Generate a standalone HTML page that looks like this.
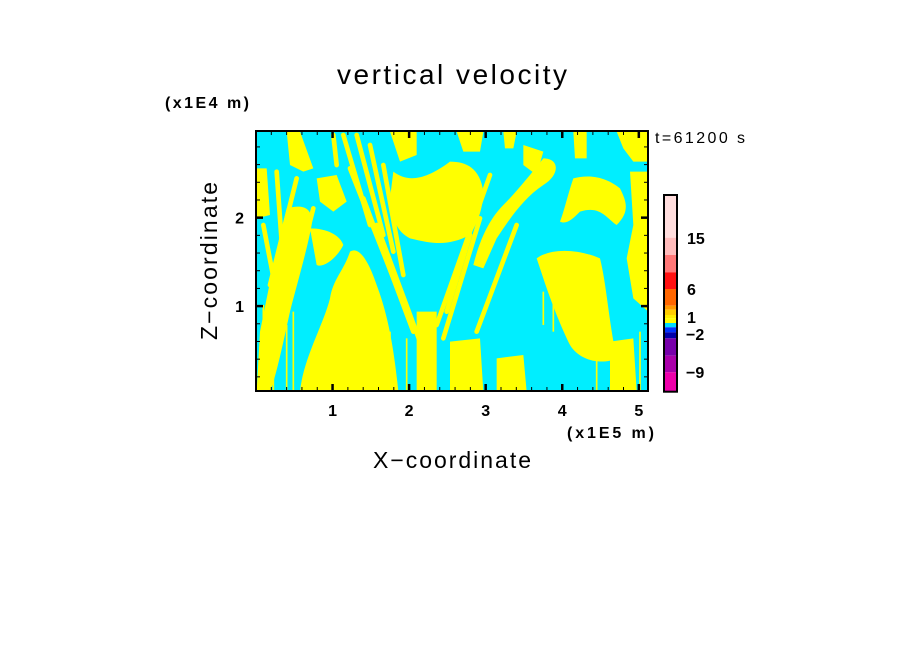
<!DOCTYPE html>
<html><head><meta charset="utf-8"><style>
body{margin:0;background:#fff;width:904px;height:654px;overflow:hidden}
svg text{font-family:"Liberation Sans","DejaVu Sans",sans-serif;fill:#000}
</style></head><body>
<svg id="chart" width="904" height="654" viewBox="0 0 904 654" xmlns="http://www.w3.org/2000/svg">
<defs><clipPath id="pc"><rect x="256" y="131" width="392" height="260"/></clipPath></defs>
<text x="452" y="84" font-size="28" text-anchor="middle" textLength="230">vertical velocity</text>
<text x="165" y="108" font-size="16" font-weight="bold" textLength="84">(x1E4 m)</text>
<text x="655" y="143" font-size="16" textLength="90">t=61200 s</text>
<g clip-path="url(#pc)">
<rect x="256" y="131" width="392" height="260" fill="#00eeff"/>
<g transform="translate(250,125) scale(0.33333)" fill="#ffff00" stroke="#ffff00">
<path stroke-width="0" d="M150,800 C160,700 220,600 240,520 C250,460 280,440 300,380 C330,360 360,420 380,480 C410,560 430,650 445,800 Z"/>
<path stroke-width="0" d="M110,250 C150,240 190,240 185,300 C170,380 140,480 120,560 C100,650 80,750 60,800 L20,800 L30,620 C50,520 70,420 90,330 Z"/>
<path stroke-width="0" d="M180,310 C230,310 270,330 280,360 C260,400 220,430 200,420 Z"/>
<polygon stroke-width="0" points="110,20 150,20 190,130 160,140 120,120"/>
<polygon stroke-width="0" points="20,130 50,130 60,270 20,280"/>
<path stroke-width="0" d="M430,140 C470,170 520,170 600,110 C650,110 690,130 700,200 C700,250 680,300 660,330 C600,360 560,360 480,340 C440,320 425,280 420,220 Z"/>
<polygon stroke-width="0" points="420,20 500,20 500,90 450,110"/>
<polygon stroke-width="0" points="620,20 700,20 690,80 640,80"/>
<path stroke-width="0" d="M880,100 C930,100 930,150 880,180 C820,220 780,280 740,340 L700,430 L670,420 C690,340 720,280 760,240 C800,200 840,150 880,100 Z"/>
<path stroke-width="0" d="M860,400 C900,370 980,370 1050,400 C1070,480 1075,580 1100,700 C1060,720 990,710 960,660 C930,600 900,520 880,460 Z"/>
<path stroke-width="0" d="M970,160 C1010,150 1060,150 1110,190 C1130,230 1140,260 1100,300 C1070,280 1050,240 990,260 C970,280 950,300 930,290 C945,250 950,220 970,160 Z"/>
<polygon stroke-width="0" points="1100,20 1195,20 1195,110 1150,110 1120,70"/>
<polygon stroke-width="0" points="1140,140 1195,140 1195,560 1150,520 1130,400 1150,300"/>
<polygon stroke-width="0" points="970,20 1010,20 1010,100 975,100"/>
<polygon stroke-width="0" points="200,160 260,150 290,230 250,260 210,230"/>
<polygon stroke-width="0" points="500,560 560,560 560,800 500,800"/>
<polygon stroke-width="0" points="740,700 820,690 830,800 740,800"/>
<polygon stroke-width="0" points="600,650 690,640 700,800 600,800"/>
<polygon stroke-width="0" points="1080,650 1150,640 1160,800 1080,800"/>
<polygon stroke-width="0" points="760,20 800,20 790,70 765,70"/>
<polygon stroke-width="0" points="820,60 880,80 860,150 820,120"/>
<g fill="none" stroke-width="14" stroke-linecap="round">
<line x1="280" y1="30" x2="360" y2="300"/><line x1="320" y1="30" x2="400" y2="330"/>
<line x1="360" y1="60" x2="430" y2="380"/><line x1="400" y1="120" x2="460" y2="450"/>
<line x1="300" y1="130" x2="470" y2="560"/><line x1="340" y1="220" x2="490" y2="620"/>
<line x1="380" y1="300" x2="510" y2="650"/><line x1="720" y1="150" x2="560" y2="600"/>
<line x1="690" y1="280" x2="580" y2="640"/><line x1="660" y1="330" x2="590" y2="560"/>
<line x1="800" y1="300" x2="680" y2="620"/><line x1="250" y1="30" x2="260" y2="120"/>
<line x1="80" y1="140" x2="100" y2="420"/><line x1="140" y1="160" x2="60" y2="480"/>
<line x1="40" y1="300" x2="90" y2="560"/><line x1="190" y1="250" x2="110" y2="560"/>
</g>
<g fill="none" stroke-width="5">
<line x1="40" y1="540" x2="40" y2="800"/><line x1="70" y1="560" x2="70" y2="800"/>
<line x1="110" y1="600" x2="110" y2="800"/><line x1="130" y1="560" x2="130" y2="800"/>
<line x1="330" y1="640" x2="330" y2="800"/><line x1="360" y1="600" x2="360" y2="800"/>
<line x1="390" y1="650" x2="390" y2="800"/><line x1="420" y1="620" x2="420" y2="800"/>
<line x1="470" y1="640" x2="470" y2="800"/><line x1="880" y1="500" x2="880" y2="600"/>
<line x1="910" y1="480" x2="910" y2="620"/><line x1="1040" y1="700" x2="1040" y2="800"/>
<line x1="1170" y1="620" x2="1170" y2="800"/>
</g>
</g>
</g>
<rect x="256" y="131" width="392" height="260" fill="none" stroke="#000" stroke-width="2"/>
<g id="ticks" stroke="#000"></g>
<g id="labels" font-size="16" font-weight="bold"></g>
<text x="567" y="438" font-size="16" font-weight="bold" textLength="87">(x1E5 m)</text>
<text x="452" y="468" font-size="23" text-anchor="middle" textLength="158">X−coordinate</text>
<text transform="translate(217,261) rotate(-90)" font-size="23" text-anchor="middle" textLength="158">Z−coordinate</text>
<g id="cbar"></g>
<g id="cbl" font-size="16" font-weight="bold"></g>
<script>
const xTicks=[1,2,3,4,5];
const zTicks=[1,2];
const xMin=0,xMax=5.12,zMin=0.04,zMax=2.98;
const cbColors=["#ffdddd","#ffbbbb","#ff7777","#ff1111","#ff6600","#ff9900","#ffcc00","#ffee00","#ffff00","#00ddff","#0033ff","#0000aa","#7700aa","#aa00aa","#ee00aa"];
const cbEdges=[195,237.7,255,272.3,289,305.7,309.7,315,318.3,323,327.3,332.3,338.3,355.7,372.3,391.7];
const cbLabels=["15","6","1","−2","−9"];
const cbLabelY=[238,289,317,334,372];
const NS="http://www.w3.org/2000/svg";
const X=v=>256+(v-xMin)/(xMax-xMin)*392;
const Z=v=>391-(v-zMin)/(zMax-zMin)*260;
const tk=document.getElementById('ticks'),lb=document.getElementById('labels');
function ln(x1,y1,x2,y2,w){const l=document.createElementNS(NS,'line');l.setAttribute('x1',x1);l.setAttribute('y1',y1);l.setAttribute('x2',x2);l.setAttribute('y2',y2);l.setAttribute('stroke-width',w);


tk.appendChild(l);}
for(let i=1;i<=25;i++){const v=i*0.2;if(v>xMax)break;const x=X(v);const maj=Math.abs(v-Math.round(v))<1e-6;const L=maj?7:4;ln(x,391,x,391-L,maj?2.5:1);ln(x,131,x,131+L,maj?2.5:1);}
for(let i=1;i<=14;i++){const v=i*0.2;if(v>zMax)break;const y=Z(v);const maj=Math.abs(v-Math.round(v))<1e-6;const L=maj?7:4;ln(256,y,256+L,y,maj?2.5:1);ln(648,y,648-L,y,maj?2.5:1);}
xTicks.forEach(v=>{const t=document.createElementNS(NS,'text');t.setAttribute('x',X(v));t.setAttribute('y',416);t.setAttribute('text-anchor','middle');t.textContent=v;


lb.appendChild(t);});
zTicks.forEach(v=>{const t=document.createElementNS(NS,'text');t.setAttribute('x',244);t.setAttribute('y',Z(v)+6);t.setAttribute('text-anchor','end');t.textContent=v;


lb.appendChild(t);});
const cb=document.getElementById('cbar');
cbColors.forEach((c,i)=>{const r=document.createElementNS(NS,'rect');r.setAttribute('x',664);r.setAttribute('y',cbEdges[i]);r.setAttribute('width',13);r.setAttribute('height',cbEdges[i+1]-cbEdges[i]);r.setAttribute('fill',c);


cb.appendChild(r);});
const fr=document.createElementNS(NS,'rect');fr.setAttribute('x',664);fr.setAttribute('y',195);fr.setAttribute('width',13);fr.setAttribute('height',196.7);fr.setAttribute('fill','none');fr.setAttribute('stroke','#000');fr.setAttribute('stroke-width','2');


cb.appendChild(fr);
const cl=document.getElementById('cbl');
cbLabels.forEach((s,i)=>{const t=document.createElementNS(NS,'text');t.setAttribute('x',s.startsWith('−')?686:687);t.setAttribute('y',cbLabelY[i]+6);t.textContent=s;


cl.appendChild(t);});
</script>
</svg>
</body></html>
